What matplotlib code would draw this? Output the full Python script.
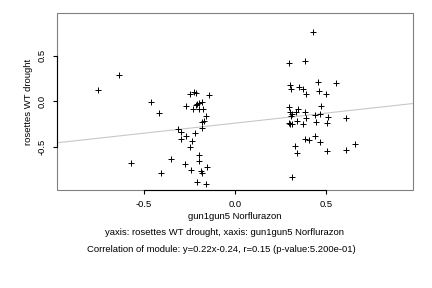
import matplotlib
matplotlib.use("Agg")
import matplotlib.pyplot as plt
from matplotlib.patches import Rectangle

plt.rcParams['font.family'] = ['Liberation Sans', 'DejaVu Sans']

# gun1gun5 Norflurazon (x) vs rosettes WT drought (y)
x_vals = [-0.757, -0.641, -0.465, -0.416, -0.570, -0.410, -0.350, -0.313, -0.297, -0.297,
          -0.270, -0.235, -0.246, -0.218, -0.273, -0.240, -0.196, -0.196, -0.185, -0.180,
          -0.152, -0.207, -0.158, -0.183, -0.180, -0.169, -0.158, -0.246, -0.224, -0.213,
          -0.145, -0.268, -0.229, -0.214, -0.207, -0.196, -0.196, -0.180, -0.174,
          0.432, 0.299, 0.387, 0.304, 0.310, 0.353, 0.375, 0.392, 0.458, 0.463,
          0.502, 0.557, 0.299, 0.304, 0.315, 0.310, 0.337, 0.348, 0.387, 0.392,
          0.441, 0.469, 0.474, 0.513, 0.612, 0.299, 0.304, 0.315, 0.342, 0.375,
          0.447, 0.507, 0.387, 0.408, 0.441, 0.469, 0.331, 0.342, 0.507, 0.612,
          0.661, 0.315]
y_vals = [0.124, 0.285, -0.008, -0.132, -0.678, -0.788, -0.634, -0.304, -0.341, -0.414,
          -0.381, -0.436, -0.502, -0.348, -0.692, -0.755, -0.590, -0.652, -0.766, -0.788,
          -0.722, -0.887, -0.905, -0.293, -0.231, -0.216, -0.162, 0.080, 0.102, 0.091,
          0.069, -0.052, -0.085, -0.044, -0.030, -0.085, -0.019, -0.008, -0.085,
          0.758, 0.424, 0.443, 0.179, 0.135, 0.157, 0.135, 0.080, 0.212, 0.113,
          0.080, 0.201, -0.063, -0.118, -0.143, -0.162, -0.118, -0.085, -0.118, -0.184,
          -0.151, -0.140, -0.052, -0.173, -0.184, -0.239, -0.250, -0.250, -0.217, -0.250,
          -0.228, -0.239, -0.411, -0.425, -0.381, -0.447, -0.491, -0.568, -0.546, -0.535,
          -0.469, -0.832]

slope = 0.22
intercept = -0.24
ticks = [-0.5, 0.0, 0.5]
tick_labels = ['-0.5', '0.0', '0.5']

fs = 6.8

fig = plt.figure(figsize=(4.32, 2.88), dpi=100)
ax = fig.add_axes([0.132, 0.340, 0.824, 0.615])

xlim = (-0.98, 0.98)
ylim = (-0.975, 0.97)

# regression line
ax.plot(list(xlim), [slope * v + intercept for v in xlim], color='#c8c8c8', lw=0.8, zorder=1)
ax.plot(x_vals, y_vals, '+', color='black', ms=4.5, mew=0.7, zorder=2)

ax.set_xlim(*xlim)
ax.set_ylim(*ylim)
ax.set_xticks(ticks)
ax.set_xticklabels(tick_labels)
ax.set_yticks(ticks)
ax.set_yticklabels(tick_labels, rotation=90, va='center')

# R-style axes: gray box, black axis lines only between extreme ticks
for side in ['top', 'right']:
    ax.spines[side].set_visible(False)
ax.spines['bottom'].set_bounds(-0.5, 0.5)
ax.spines['left'].set_bounds(-0.5, 0.5)
for side in ['bottom', 'left']:
    ax.spines[side].set_linewidth(0.8)
ax.add_patch(Rectangle((0, 0), 1, 1, transform=ax.transAxes, fill=False,
                       edgecolor='#808080', lw=0.8, clip_on=False, zorder=0))

ax.tick_params(direction='out', length=3, width=0.8, labelsize=fs, pad=4.5)
ax.set_xlabel('gun1gun5 Norflurazon', fontsize=fs, labelpad=1.5)
ax.set_ylabel('rosettes WT drought', fontsize=fs, labelpad=3)

fig.text(0.52, 0.191, 'yaxis: rosettes WT drought, xaxis: gun1gun5 Norflurazon',
         ha='center', va='center', fontsize=fs)
fig.text(0.512, 0.132, 'Correlation of module: y=0.22x-0.24, r=0.15 (p-value:5.200e-01)',
         ha='center', va='center', fontsize=fs)

fig.savefig('out.png', dpi=100)
